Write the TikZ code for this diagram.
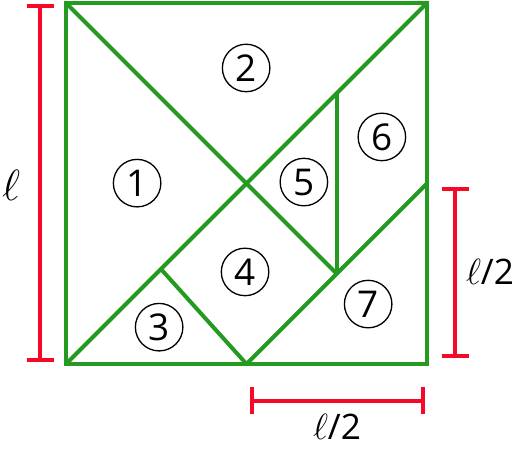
\documentclass[tikz,border=0pt]{standalone}
\usepackage{fontspec}
\setmainfont{Open Sans}
\usetikzlibrary{arrows.meta}
\definecolor{tangramgreen}{RGB}{36, 154, 32}
\definecolor{tangramred}{RGB}{245, 8, 40}
\begin{document}
\begin{tikzpicture}[
    piece/.style={
        draw=tangramgreen,
        line width=0.08cm,
        line join=miter
    },
    piecenum/.style={
        circle,
        draw=black,
        line width=0.75pt,
        minimum size=0.95cm,
        inner sep=0pt,
        font=\fontsize{21}{24}\selectfont
    },
    dimline/.style={
        draw=tangramred,
        line width=0.08cm,
        {Bar[width=0.54cm,line width=0.08cm]}-{Bar[width=0.54cm,line width=0.08cm]}
    },
    dimlabel/.style={
        font=\fontsize{20}{23}\selectfont,
        inner sep=0pt
    }
]

% Picture frame
\useasboundingbox (0,0) rectangle (10.3,9.06);

% Tangram pieces
\begin{scope}[shift={(1.32,1.78)}, scale=7.22]
    \draw[piece] (0,0) rectangle (1,1);
    \draw[piece] (0,1) -- (0.75,0.25);
    \draw[piece] (0,0) -- (1,1);
    \draw[piece] (0.5,0) -- (1,0.5);
    \draw[piece] (0.75,0.25) -- (0.75,0.75);
    \draw[piece] (0.263,0.263) -- (0.5,0);

    % Piece numbers
    \foreach \n/\x/\y in {1/0.197/0.501, 2/0.499/0.82, 3/0.258/0.102, 4/0.496/0.255,
                          5/0.659/0.504, 6/0.875/0.629, 7/0.837/0.166} {
        \node[piecenum] (num\n) at (\x,\y) {\n};
    }
\end{scope}

% Dimension lines
\coordinate (sidetop) at (0.8,8.98);
\coordinate (sidebot) at (0.8,1.82);
\coordinate (halftop) at (9.1,5.32);
\coordinate (halfbot) at (9.1,1.9);
\coordinate (halfleft) at (5.0,1.04);
\coordinate (halfright) at (8.5,1.04);

\draw[dimline] (sidetop) -- (sidebot);
\draw[dimline] (halftop) -- (halfbot);
\draw[dimline] (halfleft) -- (halfright);

\node[dimlabel, font=\fontsize{29}{32}\selectfont] (sidelabel) at (0.22,5.36) {$\ell$};
\node[dimlabel] (rightlabel) at (9.8,3.62) {$\ell$/2};
\node[dimlabel] (bottomlabel) at (6.74,0.52) {$\ell$/2};

\end{tikzpicture}
\end{document}
